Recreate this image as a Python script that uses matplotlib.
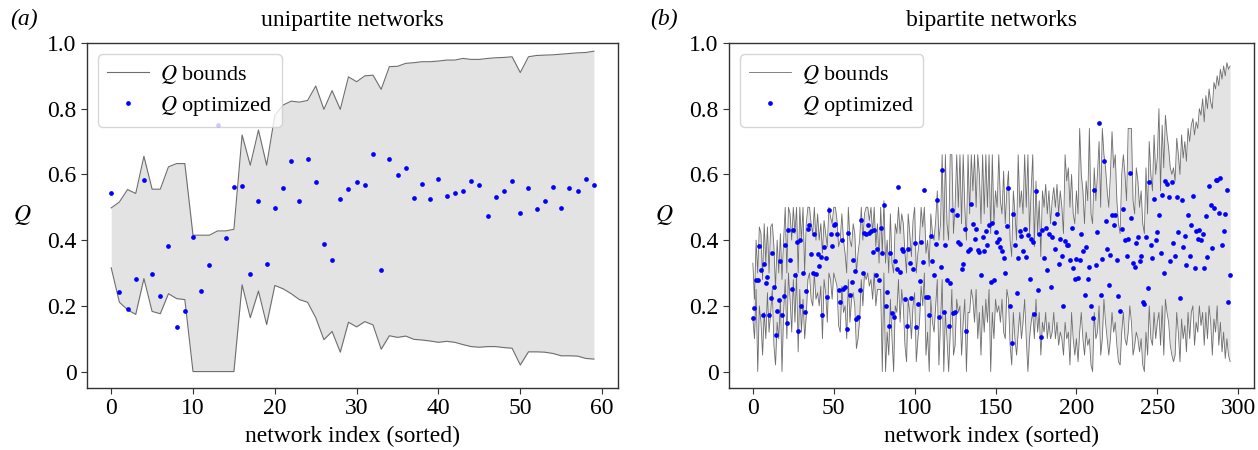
import numpy as np
import matplotlib
matplotlib.use("Agg")
import matplotlib.pyplot as plt

plt.rcParams['font.family'] = ['Liberation Serif', 'DejaVu Serif']
plt.rcParams['mathtext.fontset'] = 'stix'

# (a) unipartite networks, sorted
uni_upper = [0.498, 0.516, 0.554, 0.542, 0.655, 0.555, 0.555, 0.623, 0.633, 0.633,
             0.415, 0.415, 0.415, 0.428, 0.428, 0.433, 0.720, 0.628, 0.735, 0.628,
             0.780, 0.811, 0.823, 0.820, 0.825, 0.869, 0.798, 0.855, 0.798, 0.897,
             0.882, 0.900, 0.902, 0.859, 0.928, 0.929, 0.938, 0.940, 0.943, 0.943,
             0.945, 0.948, 0.948, 0.953, 0.950, 0.950, 0.953, 0.955, 0.956, 0.958,
             0.910, 0.958, 0.962, 0.963, 0.964, 0.966, 0.968, 0.970, 0.971, 0.975]
uni_lower = [0.316, 0.211, 0.188, 0.174, 0.283, 0.183, 0.176, 0.237, 0.222, 0.219,
             0.000, 0.000, 0.000, 0.000, 0.000, 0.000, 0.264, 0.164, 0.245, 0.143,
             0.262, 0.252, 0.237, 0.219, 0.211, 0.164, 0.097, 0.122, 0.059, 0.150,
             0.136, 0.152, 0.142, 0.068, 0.109, 0.104, 0.108, 0.098, 0.096, 0.093,
             0.089, 0.092, 0.089, 0.082, 0.076, 0.074, 0.076, 0.076, 0.073, 0.071,
             0.020, 0.060, 0.060, 0.059, 0.055, 0.048, 0.048, 0.047, 0.040, 0.038]
uni_opt = [0.544, 0.243, 0.190, 0.282, 0.584, 0.298, 0.230, 0.383, 0.136, 0.185,
           0.410, 0.245, 0.325, 0.750, 0.407, 0.562, 0.565, 0.298, 0.518, 0.327,
           0.497, 0.560, 0.640, 0.520, 0.648, 0.577, 0.389, 0.340, 0.525, 0.555,
           0.578, 0.567, 0.661, 0.309, 0.648, 0.598, 0.619, 0.528, 0.570, 0.526,
           0.586, 0.535, 0.542, 0.548, 0.579, 0.567, 0.474, 0.532, 0.548, 0.581,
           0.484, 0.559, 0.496, 0.518, 0.561, 0.497, 0.559, 0.550, 0.586, 0.567]

# (b) bipartite networks, sorted
bi_upper = [0.33, 0.22, 0.40, 0.30, 0.44, 0.42, 0.28, 0.45, 0.33, 0.44,
            0.30, 0.44, 0.45, 0.38, 0.25, 0.40, 0.30, 0.42, 0.28, 0.40,
            0.50, 0.30, 0.50, 0.48, 0.40, 0.50, 0.42, 0.50, 0.30, 0.50,
            0.40, 0.50, 0.30, 0.45, 0.50, 0.50, 0.45, 0.42, 0.50, 0.40,
            0.48, 0.40, 0.45, 0.36, 0.46, 0.42, 0.38, 0.50, 0.47, 0.45,
            0.50, 0.50, 0.46, 0.38, 0.40, 0.48, 0.40, 0.36, 0.30, 0.50,
            0.40, 0.38, 0.45, 0.42, 0.30, 0.36, 0.40, 0.50, 0.40, 0.48,
            0.50, 0.50, 0.46, 0.50, 0.42, 0.50, 0.38, 0.45, 0.33, 0.50,
            0.36, 0.52, 0.33, 0.40, 0.30, 0.48, 0.33, 0.30, 0.45, 0.42,
            0.50, 0.42, 0.48, 0.45, 0.36, 0.30, 0.48, 0.42, 0.35, 0.46,
            0.50, 0.30, 0.36, 0.40, 0.50, 0.44, 0.50, 0.36, 0.40, 0.32,
            0.48, 0.42, 0.40, 0.46, 0.55, 0.40, 0.45, 0.66, 0.40, 0.66,
            0.45, 0.40, 0.66, 0.66, 0.42, 0.50, 0.66, 0.50, 0.66, 0.45,
            0.66, 0.50, 0.40, 0.66, 0.48, 0.66, 0.55, 0.66, 0.50, 0.66,
            0.60, 0.45, 0.66, 0.48, 0.66, 0.50, 0.66, 0.42, 0.66, 0.45,
            0.55, 0.50, 0.66, 0.52, 0.48, 0.61, 0.45, 0.55, 0.61, 0.40,
            0.35, 0.55, 0.48, 0.40, 0.66, 0.50, 0.55, 0.48, 0.66, 0.50,
            0.66, 0.42, 0.55, 0.66, 0.38, 0.58, 0.42, 0.52, 0.35, 0.55,
            0.50, 0.57, 0.48, 0.55, 0.45, 0.52, 0.56, 0.50, 0.57, 0.48,
            0.55, 0.50, 0.42, 0.66, 0.58, 0.62, 0.50, 0.60, 0.48, 0.45,
            0.55, 0.48, 0.74, 0.60, 0.55, 0.45, 0.58, 0.52, 0.74, 0.48,
            0.45, 0.62, 0.52, 0.60, 0.70, 0.50, 0.74, 0.66, 0.62, 0.55,
            0.50, 0.60, 0.73, 0.62, 0.66, 0.52, 0.45, 0.42, 0.60, 0.66,
            0.60, 0.52, 0.74, 0.74, 0.74, 0.52, 0.48, 0.62, 0.58, 0.50,
            0.55, 0.45, 0.42, 0.62, 0.48, 0.70, 0.60, 0.55, 0.72, 0.60,
            0.65, 0.80, 0.55, 0.75, 0.62, 0.78, 0.72, 0.68, 0.62, 0.60,
            0.62, 0.58, 0.71, 0.66, 0.60, 0.72, 0.65, 0.70, 0.64, 0.74,
            0.70, 0.75, 0.77, 0.72, 0.76, 0.74, 0.80, 0.78, 0.83, 0.76,
            0.84, 0.80, 0.86, 0.82, 0.80, 0.88, 0.86, 0.90, 0.87, 0.92,
            0.89, 0.93, 0.90, 0.94, 0.92, 0.93]
bi_lower = [0.16, 0.10, 0.25, 0.00, 0.20, 0.15, 0.05, 0.18, 0.10, 0.24,
            0.12, 0.18, 0.25, 0.08, 0.02, 0.15, 0.10, 0.22, 0.00, 0.18,
            0.28, 0.10, 0.30, 0.22, 0.12, 0.28, 0.15, 0.30, 0.06, 0.25,
            0.12, 0.22, 0.10, 0.17, 0.28, 0.30, 0.22, 0.20, 0.30, 0.22,
            0.24, 0.20, 0.26, 0.10, 0.28, 0.24, 0.15, 0.30, 0.28, 0.22,
            0.30, 0.28, 0.26, 0.14, 0.12, 0.26, 0.18, 0.20, 0.10, 0.28,
            0.15, 0.22, 0.24, 0.20, 0.07, 0.10, 0.16, 0.28, 0.20, 0.30,
            0.28, 0.30, 0.26, 0.28, 0.22, 0.30, 0.20, 0.25, 0.25, 0.25,
            0.00, 0.30, 0.00, 0.12, 0.05, 0.22, 0.10, 0.00, 0.20, 0.18,
            0.28, 0.15, 0.25, 0.20, 0.08, 0.03, 0.22, 0.18, 0.10, 0.20,
            0.24, 0.03, 0.10, 0.15, 0.26, 0.20, 0.30, 0.05, 0.12, 0.00,
            0.22, 0.15, 0.12, 0.20, 0.28, 0.02, 0.15, 0.28, 0.00, 0.18,
            0.10, 0.00, 0.12, 0.25, 0.05, 0.08, 0.22, 0.18, 0.20, 0.05,
            0.15, 0.22, 0.00, 0.18, 0.18, 0.25, 0.22, 0.15, 0.25, 0.10,
            0.18, 0.05, 0.20, 0.12, 0.22, 0.15, 0.25, 0.00, 0.18, 0.10,
            0.22, 0.18, 0.20, 0.15, 0.22, 0.12, 0.10, 0.25, 0.22, 0.08,
            0.02, 0.18, 0.10, 0.05, 0.12, 0.18, 0.10, 0.15, 0.22, 0.10,
            0.00, 0.10, 0.15, 0.18, 0.10, 0.22, 0.12, 0.18, 0.05, 0.15,
            0.12, 0.18, 0.10, 0.15, 0.10, 0.12, 0.18, 0.10, 0.15, 0.08,
            0.12, 0.10, 0.05, 0.15, 0.10, 0.12, 0.02, 0.18, 0.10, 0.05,
            0.10, 0.03, 0.12, 0.18, 0.10, 0.05, 0.12, 0.08, 0.10, 0.02,
            0.00, 0.18, 0.10, 0.12, 0.20, 0.05, 0.10, 0.22, 0.15, 0.10,
            0.05, 0.10, 0.18, 0.12, 0.15, 0.08, 0.03, 0.02, 0.12, 0.18,
            0.10, 0.08, 0.12, 0.20, 0.15, 0.05, 0.08, 0.12, 0.10, 0.06,
            0.10, 0.02, 0.00, 0.12, 0.05, 0.20, 0.10, 0.08, 0.18, 0.10,
            0.15, 0.18, 0.08, 0.20, 0.05, 0.22, 0.18, 0.15, 0.08, 0.05,
            0.03, 0.05, 0.18, 0.12, 0.03, 0.16, 0.10, 0.14, 0.06, 0.18,
            0.10, 0.18, 0.20, 0.08, 0.15, 0.12, 0.20, 0.14, 0.18, 0.08,
            0.18, 0.10, 0.20, 0.15, 0.05, 0.16, 0.12, 0.20, 0.08, 0.15,
            0.06, 0.12, 0.04, 0.10, 0.05, 0.03]
bi_opt = [0.164, 0.192, 0.280, 0.279, 0.382, 0.309, 0.171, 0.327, 0.270, 0.287,
          0.171, 0.225, 0.362, 0.257, 0.111, 0.183, 0.218, 0.335, 0.171, 0.231,
          0.386, 0.149, 0.431, 0.341, 0.250, 0.431, 0.293, 0.394, 0.124, 0.400,
          0.201, 0.301, 0.181, 0.246, 0.435, 0.446, 0.357, 0.301, 0.420, 0.297,
          0.357, 0.321, 0.349, 0.172, 0.378, 0.345, 0.228, 0.491, 0.420, 0.382,
          0.445, 0.449, 0.420, 0.248, 0.211, 0.400, 0.250, 0.258, 0.130, 0.422,
          0.233, 0.272, 0.339, 0.306, 0.159, 0.165, 0.248, 0.461, 0.299, 0.422,
          0.418, 0.445, 0.422, 0.427, 0.364, 0.431, 0.293, 0.372, 0.279, 0.437,
          0.360, 0.507, 0.200, 0.243, 0.140, 0.360, 0.177, 0.165, 0.337, 0.311,
          0.561, 0.304, 0.374, 0.367, 0.220, 0.140, 0.372, 0.331, 0.225, 0.313,
          0.392, 0.136, 0.205, 0.276, 0.394, 0.333, 0.552, 0.226, 0.228, 0.173,
          0.412, 0.337, 0.293, 0.387, 0.522, 0.165, 0.319, 0.613, 0.181, 0.386,
          0.280, 0.138, 0.268, 0.491, 0.179, 0.181, 0.475, 0.394, 0.388, 0.311,
          0.327, 0.433, 0.123, 0.366, 0.374, 0.510, 0.449, 0.402, 0.435, 0.370,
          0.365, 0.293, 0.410, 0.366, 0.429, 0.384, 0.445, 0.274, 0.451, 0.279,
          0.426, 0.394, 0.404, 0.378, 0.367, 0.347, 0.300, 0.443, 0.558, 0.199,
          0.088, 0.481, 0.386, 0.240, 0.347, 0.429, 0.414, 0.366, 0.434, 0.349,
          0.416, 0.281, 0.404, 0.394, 0.175, 0.550, 0.248, 0.420, 0.104, 0.431,
          0.345, 0.437, 0.309, 0.420, 0.258, 0.408, 0.451, 0.372, 0.481, 0.327,
          0.404, 0.353, 0.199, 0.398, 0.386, 0.384, 0.339, 0.437, 0.315, 0.282,
          0.343, 0.284, 0.341, 0.418, 0.367, 0.232, 0.378, 0.282, 0.317, 0.201,
          0.162, 0.554, 0.323, 0.426, 0.755, 0.232, 0.343, 0.642, 0.459, 0.373,
          0.264, 0.355, 0.475, 0.445, 0.475, 0.339, 0.230, 0.183, 0.433, 0.496,
          0.400, 0.353, 0.402, 0.605, 0.467, 0.329, 0.319, 0.390, 0.408, 0.337,
          0.353, 0.211, 0.207, 0.408, 0.254, 0.577, 0.384, 0.347, 0.524, 0.400,
          0.424, 0.475, 0.360, 0.536, 0.300, 0.579, 0.571, 0.532, 0.337, 0.577,
          0.390, 0.352, 0.532, 0.424, 0.225, 0.522, 0.380, 0.414, 0.323, 0.477,
          0.353, 0.445, 0.534, 0.315, 0.427, 0.404, 0.431, 0.400, 0.420, 0.315,
          0.473, 0.349, 0.564, 0.506, 0.376, 0.497, 0.583, 0.583, 0.484, 0.589,
          0.384, 0.429, 0.479, 0.554, 0.211, 0.293]

Y_TICKS = [0, 0.2, 0.4, 0.6, 0.8, 1.0]
Y_TICKLABELS = ['0', '0.2', '0.4', '0.6', '0.8', '1.0']
FS = 17

fig = plt.figure(figsize=(12.58, 4.5), dpi=100)
ax_a = fig.add_axes([0.0692, 0.1378, 0.4221, 0.7667])
ax_b = fig.add_axes([0.5795, 0.1378, 0.4173, 0.7667])

panels = [(ax_a, uni_upper, uni_lower, uni_opt, 'unipartite networks', '(a)', 0.8, -0.145),
          (ax_b, bi_upper, bi_lower, bi_opt, 'bipartite networks', '(b)', 0.6, -0.15)]

for ax, up, lo, opt, title, tag, lw, tag_x in panels:
    idx = np.arange(len(up))
    ax.fill_between(idx, lo, up, color='#e3e3e3', lw=0)
    ax.plot(idx, up, color='#6e6e6e', lw=lw, label=r'$Q$ bounds')
    ax.plot(idx, lo, color='#6e6e6e', lw=lw)
    ax.plot(idx, opt, ls='none', marker='o', ms=3.4, mec='none', color='blue',
            label=r'$Q$ optimized')
    ax.set_ylim(-0.05, 1.0)
    ax.set_yticks(Y_TICKS)
    ax.set_yticklabels(Y_TICKLABELS)
    ax.tick_params(labelsize=FS, length=4, width=0.8, color='#333333')
    for s in ax.spines.values():
        s.set_color('#333333')
        s.set_linewidth(1.0)
    ax.set_xlabel('network index (sorted)', fontsize=FS, labelpad=5)
    ax.set_ylabel(r'$Q$', fontsize=FS, rotation=0, labelpad=18, va='center')
    ax.set_title(title, fontsize=FS, pad=12)
    ax.text(tag_x, 1.068, tag, transform=ax.transAxes,
            fontsize=FS, style='italic', ha='left', va='center')
    leg = ax.legend(loc='upper left', fontsize=16, frameon=True, fancybox=True,
                    handlelength=1.9, handletextpad=0.5, borderpad=0.4,
                    labelspacing=0.35)
    leg.get_frame().set_edgecolor('#cccccc')

ax_a.set_xticks([0, 10, 20, 30, 40, 50, 60])
ax_b.set_xticks([0, 50, 100, 150, 200, 250, 300])

fig.savefig('out.png', dpi=100)
